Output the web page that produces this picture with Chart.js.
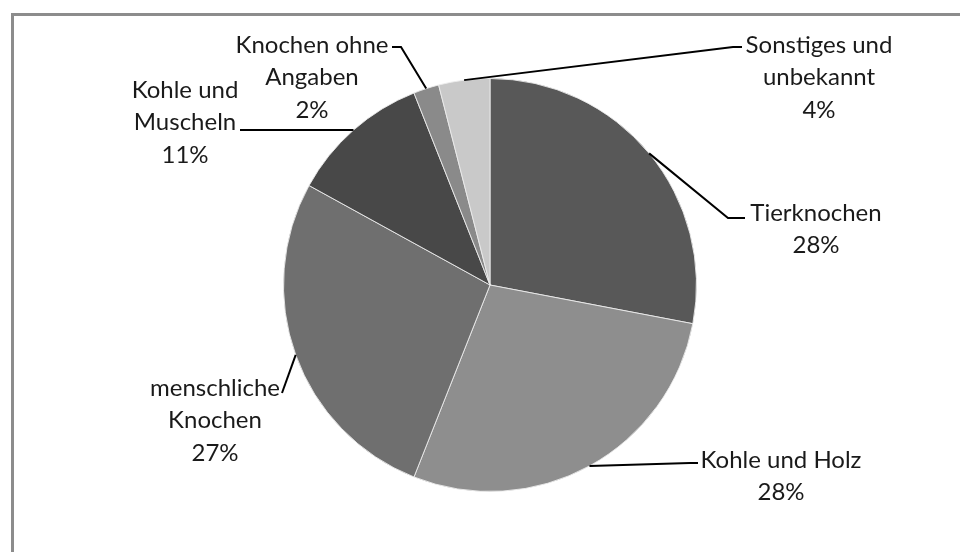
<!DOCTYPE html>
<html>
<head>
<meta charset="utf-8">
<script src="https://cdn.jsdelivr.net/npm/chart.js@4"></script>
<style>
html,body{margin:0;padding:0;background:#fff;}
#wrap{width:960px;height:552px;position:relative;}
</style>
</head>
<body>
<div id="wrap"><canvas id="c" width="960" height="552"></canvas></div>
<script>
// ---- data ----
const categories = ["Tierknochen", "Kohle und Holz", "menschliche Knochen", "Kohle und Muscheln", "Knochen ohne Angaben", "Sonstiges und unbekannt"];
const values = [28, 28, 27, 11, 2, 4];
const labelLines = [["Tierknochen"], ["Kohle und Holz"], ["menschliche", "Knochen"], ["Kohle und", "Muscheln"], ["Knochen ohne", "Angaben"], ["Sonstiges und", "unbekannt"]];

// ---- styles / layout ----
const colors = ["#585858", "#8e8e8e", "#6f6f6f", "#484848", "#8a8a8a", "#c9c9c9"];
// text center x, first line y, leader elbow, leader end
const labelLayout = [
  {x: 816, y: 213, elbow: [728, 218], end: [745, 218]},
  {x: 781, y: 460, elbow: [690, 463], end: [698, 463]},
  {x: 215, y: 388, elbow: [282, 393], end: [282, 393]},
  {x: 185, y: 90, elbow: [240, 130], end: [240, 130]},
  {x: 312, y: 45, elbow: [401, 47], end: [392, 47]},
  {x: 819, y: 45, elbow: [733, 47], end: [742, 47]}
];
const lineGap = 32.5;

const frame = {
  id: 'frame',
  beforeDraw(chart) {
    const ctx = chart.ctx;
    ctx.save();
    ctx.strokeStyle = '#8c8c8c';
    ctx.lineWidth = 3;
    ctx.beginPath();
    ctx.moveTo(12.5, 560);
    ctx.lineTo(12.5, 14.5);
    ctx.lineTo(970, 14.5);
    ctx.stroke();
    ctx.restore();
  }
};

const labelsPlugin = {
  id: 'pieLabels',
  afterDatasetsDraw(chart) {
    const ctx = chart.ctx;
    const meta = chart.getDatasetMeta(0);
    ctx.save();
    meta.data.forEach((arc, i) => {
      const p = arc.getProps(['x', 'y', 'startAngle', 'endAngle', 'outerRadius'], true);
      const mid = (p.startAngle + p.endAngle) / 2;
      const ax = p.x + Math.cos(mid) * p.outerRadius;
      const ay = p.y + Math.sin(mid) * p.outerRadius;
      const L = labelLayout[i];
      ctx.strokeStyle = '#000';
      ctx.lineWidth = 2;
      ctx.beginPath();
      ctx.moveTo(ax, ay);
      ctx.lineTo(L.elbow[0], L.elbow[1]);
      ctx.lineTo(L.end[0], L.end[1]);
      ctx.stroke();
      const lines = labelLines[i].concat([values[i] + '%']);
      ctx.fillStyle = '#1a1a1a';
      ctx.font = '24px Lato, "Open Sans", sans-serif';
      ctx.textAlign = 'center';
      ctx.textBaseline = 'middle';
      lines.forEach((t, k) => ctx.fillText(t, L.x, L.y + k * lineGap));
    });
    ctx.restore();
  }
};

new Chart(document.getElementById('c'), {
  type: 'pie',
  data: {
    labels: categories,
    datasets: [{
      data: values,
      backgroundColor: colors,
      borderColor: 'rgba(235,235,235,0.9)',
      borderWidth: 1,
      hoverOffset: 0
    }]
  },
  options: {
    responsive: false,
    animation: false,
    layout: {padding: {left: 283, right: 263, top: 77, bottom: 59}},
    plugins: {legend: {display: false}, tooltip: {enabled: false}}
  },
  plugins: [frame, labelsPlugin]
});
</script>
</body>
</html>
